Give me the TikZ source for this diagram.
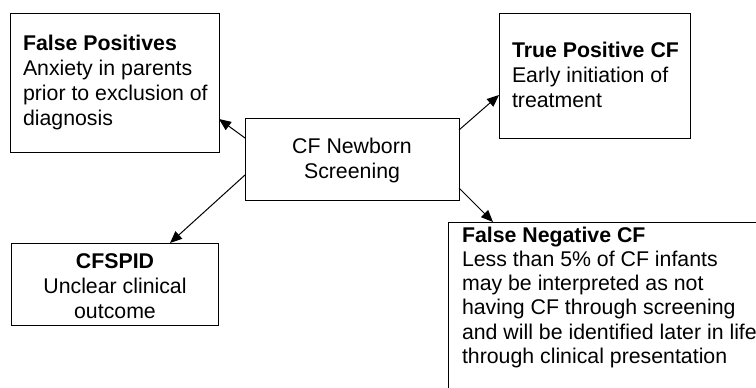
\documentclass[tikz,border=0pt]{standalone}
\usepackage{fontspec}
\setmainfont{Liberation Sans}
\usetikzlibrary{arrows.meta,calc}
\tikzset{
  box/.style={rectangle, draw=black, line width=1bp, inner sep=0pt, outer sep=0pt},
  txt/.style={inner sep=0pt, outer sep=0pt, font=\fontsize{21.3bp}{25bp}\selectfont},
  tighttxt/.style={txt, font=\fontsize{21.3bp}{24.3bp}\selectfont},
  link/.style={line width=1bp, draw=black, -{Triangle[length=12bp,width=10bp]}},
}
\begin{document}
\begin{tikzpicture}[x=1bp,y=-1bp]
\useasboundingbox (0,0) rectangle (756,387);
\clip (0,0) rectangle (756,387);
\fill[white] (0,0) rectangle (756,387);

% outcome boxes
\node[box, minimum width=208bp, minimum height=139bp] (fp) at (115,82.5) {};
\node[box, minimum width=191bp, minimum height=125bp] (tp) at (594.5,75.5) {};
\node[box, minimum width=214bp, minimum height=82bp] (cf) at (352,159) {};
\node[box, minimum width=206bp, minimum height=82bp] (cfspid) at (115,284) {};
\node[box, minimum width=340bp, minimum height=200bp] (fn) at (618,322) {};

% box texts
\node[txt, anchor=base west] (fptxt) at (23,50)
  {\begin{tabular}[t]{@{}l@{}}\textbf{False Positives}\\Anxiety in parents\\prior to exclusion of\\diagnosis\end{tabular}};
\node[txt, anchor=base west] (tptxt) at (512,57)
  {\begin{tabular}[t]{@{}l@{}}\textbf{True Positive CF}\\Early initiation of\\treatment\end{tabular}};
\node[txt, anchor=base] (cftxt) at (352,153)
  {\begin{tabular}[t]{@{}c@{}}CF Newborn\\Screening\end{tabular}};
\node[txt, anchor=base] (cfspidtxt) at (115,268)
  {\begin{tabular}[t]{@{}c@{}}\textbf{CFSPID}\\Unclear clinical\\outcome\end{tabular}};
\node[tighttxt, anchor=base west] (fntxt) at (462,242)
  {\begin{tabular}[t]{@{}l@{}}\textbf{False Negative CF}\\Less than 5\% of CF infants\\may be interpreted as not\\having CF through screening\\and will be identified later in life\\through clinical presentation\end{tabular}};

% connectors
\draw[link] ($(cf.north west)+(0,20)$) -- ($(fp.north east)+(0,106)$);
\draw[link] ($(cf.north east)+(0,12)$) -- ($(tp.north west)+(0,82)$);
\draw[link] ($(cf.north west)+(0,57)$) -- ($(cfspid.north west)+(158,0)$);
\draw[link] ($(cf.north east)+(0,70)$) -- ($(fn.north west)+(45,0)$);
\end{tikzpicture}
\end{document}
